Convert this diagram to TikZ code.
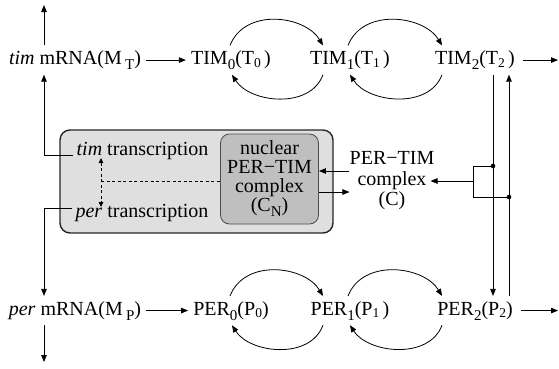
\documentclass[tikz,border=0pt]{standalone}
\usepackage{fontspec}
\setmainfont{Liberation Serif}[ItalicFont={Liberation Serif Italic}]
\usetikzlibrary{arrows.meta}
\newcommand{\sbig}[1]{\raisebox{-5pt}{\fontsize{15}{15}\selectfont #1}}
\newcommand{\ssml}[1]{\raisebox{-2.5pt}{\fontsize{13.5}{13.5}\selectfont #1}}
\begin{document}
\begin{tikzpicture}[x=1pt,y=-1pt,
  lbl/.style={font=\fontsize{20}{20}\selectfont, inner sep=5pt, anchor=base},
  arr/.style={line width=0.8pt, -{Triangle[length=7pt,width=5.5pt]}},
  ln/.style={line width=0.8pt},
  dsh/.style={line width=0.8pt, dash pattern=on 3pt off 2.5pt},
  dtip/.style={{Triangle[length=5pt,width=4.5pt]}-{Triangle[length=5pt,width=4.5pt]}},
  dotmark/.style={fill=black}]
\useasboundingbox (0,0) rectangle (559,368);

% boxes
\node[draw=black!85, line width=1.4pt, fill=gray!25, rounded corners=10pt,
  minimum width=273pt, minimum height=103pt, inner sep=0] (outer) at (196.5,181.5) {};
\node[draw=black!70, line width=0.8pt, fill=gray!50, rounded corners=9pt,
  minimum width=98pt, minimum height=90pt, inner sep=0, align=center,
  font=\fontsize{20}{19}\selectfont] (CN) at (269.5,179)
  {nuclear\\PER−TIM\\complex\\(C\sbig{N})};

% row nodes
\node[lbl] (MT) at (75,64.5) {\textit{tim} mRNA(M\,\sbig{T})};
\node[lbl] (T0) at (231,64.5) {TIM\sbig{0}(T\ssml{0}\,)};
\node[lbl] (T1) at (350,64.5) {TIM\sbig{1}(T\ssml{1}\,)};
\node[lbl] (T2) at (475,64.5) {TIM\sbig{2}(T\ssml{2}\,)};
\node[lbl] (MP) at (75,315) {\textit{per} mRNA(M\,\sbig{P})};
\node[lbl] (P0) at (231,315) {PER\sbig{0}(P\ssml{0})};
\node[lbl] (P1) at (350,315) {PER\sbig{1}(P\ssml{1}\,)};
\node[lbl] (P2) at (475,315) {PER\sbig{2}(P\ssml{2})};

% transcription nodes
\node[lbl, inner sep=3pt] (tt) at (142.5,155) {\textit{tim} transcription};
\node[lbl, inner sep=3pt] (pt) at (142,217) {\textit{per} transcription};

% complex C
\node[font=\fontsize{20}{20.5}\selectfont, align=center, inner sep=0] (C) at (392,181)
  {PER−TIM\\complex\\(C)};

% coordinates
\coordinate (top) at (44,5);
\coordinate (bot) at (44,362);
\coordinate (tout) at (558,0);
\coordinate (d1) at (493,166);
\coordinate (d2) at (509,197);
\coordinate (bt) at (473,166);
\coordinate (bb) at (473,197);
\coordinate (bm) at (473,181);
\coordinate (ya) at (0,171);
\coordinate (yb) at (0,192);
\coordinate (dt) at (101,158);
\coordinate (db) at (101,207);
\coordinate (dm) at (101,181);

% left vertical
\draw[arr] (MT.north -| top) -- (top);
\draw[arr] (tt.base west) -| (MT.south -| top);
\draw[arr] ([yshift=9pt]pt.base west) -| (MP.north -| top);
\draw[arr] (MP.south -| top) -- (bot);

% row arrows
\draw[arr] (MT.east) -- (MT.east -| T0.west);
\draw[arr] (MP.east) -- (MP.east -| P0.west);
\draw[arr] ([xshift=3pt]T2.east) -- (T2.east -| tout);
\draw[arr] ([xshift=3pt]P2.east) -- (P2.east -| tout);

% TIM arcs
\draw[arr] ([xshift=-1pt]T0.north) .. controls +(15,-38) and +(-18,-30) .. ([xshift=-27pt]T1.north);
\draw[arr] ([xshift=-27pt]T1.south) .. controls +(-13,35) and +(18,28) .. ([xshift=1pt]T0.south);
\draw[arr] ([xshift=-2pt]T1.north) .. controls +(15,-38) and +(-18,-30) .. ([xshift=-33pt]T2.north);
\draw[arr] ([xshift=-33pt]T2.south) .. controls +(-13,35) and +(18,28) .. ([xshift=0pt]T1.south);

% PER arcs
\draw[arr] ([xshift=-1pt]P0.north) .. controls +(15,-38) and +(-18,-30) .. ([xshift=-27pt]P1.north);
\draw[arr] ([xshift=-27pt]P1.south) .. controls +(-13,35) and +(18,28) .. ([xshift=1pt]P0.south);
\draw[arr] ([xshift=-2pt]P1.north) .. controls +(15,-38) and +(-18,-30) .. ([xshift=-33pt]P2.north);
\draw[arr] ([xshift=-33pt]P2.south) .. controls +(-13,35) and +(18,28) .. ([xshift=0pt]P1.south);

% right verticals
\draw[arr] (T2.south -| d1) -- (P2.north -| d1);
\draw[arr] (P2.north -| d2) -- (T2.south -| d2);
\draw[ln] (d1) -- (bt) -- (bb) -- (d2);
\fill[dotmark] (d1) circle (2.3pt);
\fill[dotmark] (d2) circle (2.3pt);
\draw[arr] (bm) -- ([xshift=-4pt]C.east |- bm);

% C <-> CN
\draw[arr] (C.west |- ya) -- (CN.east |- ya);
\draw[arr] (CN.east |- yb) -- (C.west |- yb);

% dashed
\draw[dsh, dtip] (dt) -- (db);
\draw[dsh] (dm) -- (CN.west |- dm);
\end{tikzpicture}
\end{document}
